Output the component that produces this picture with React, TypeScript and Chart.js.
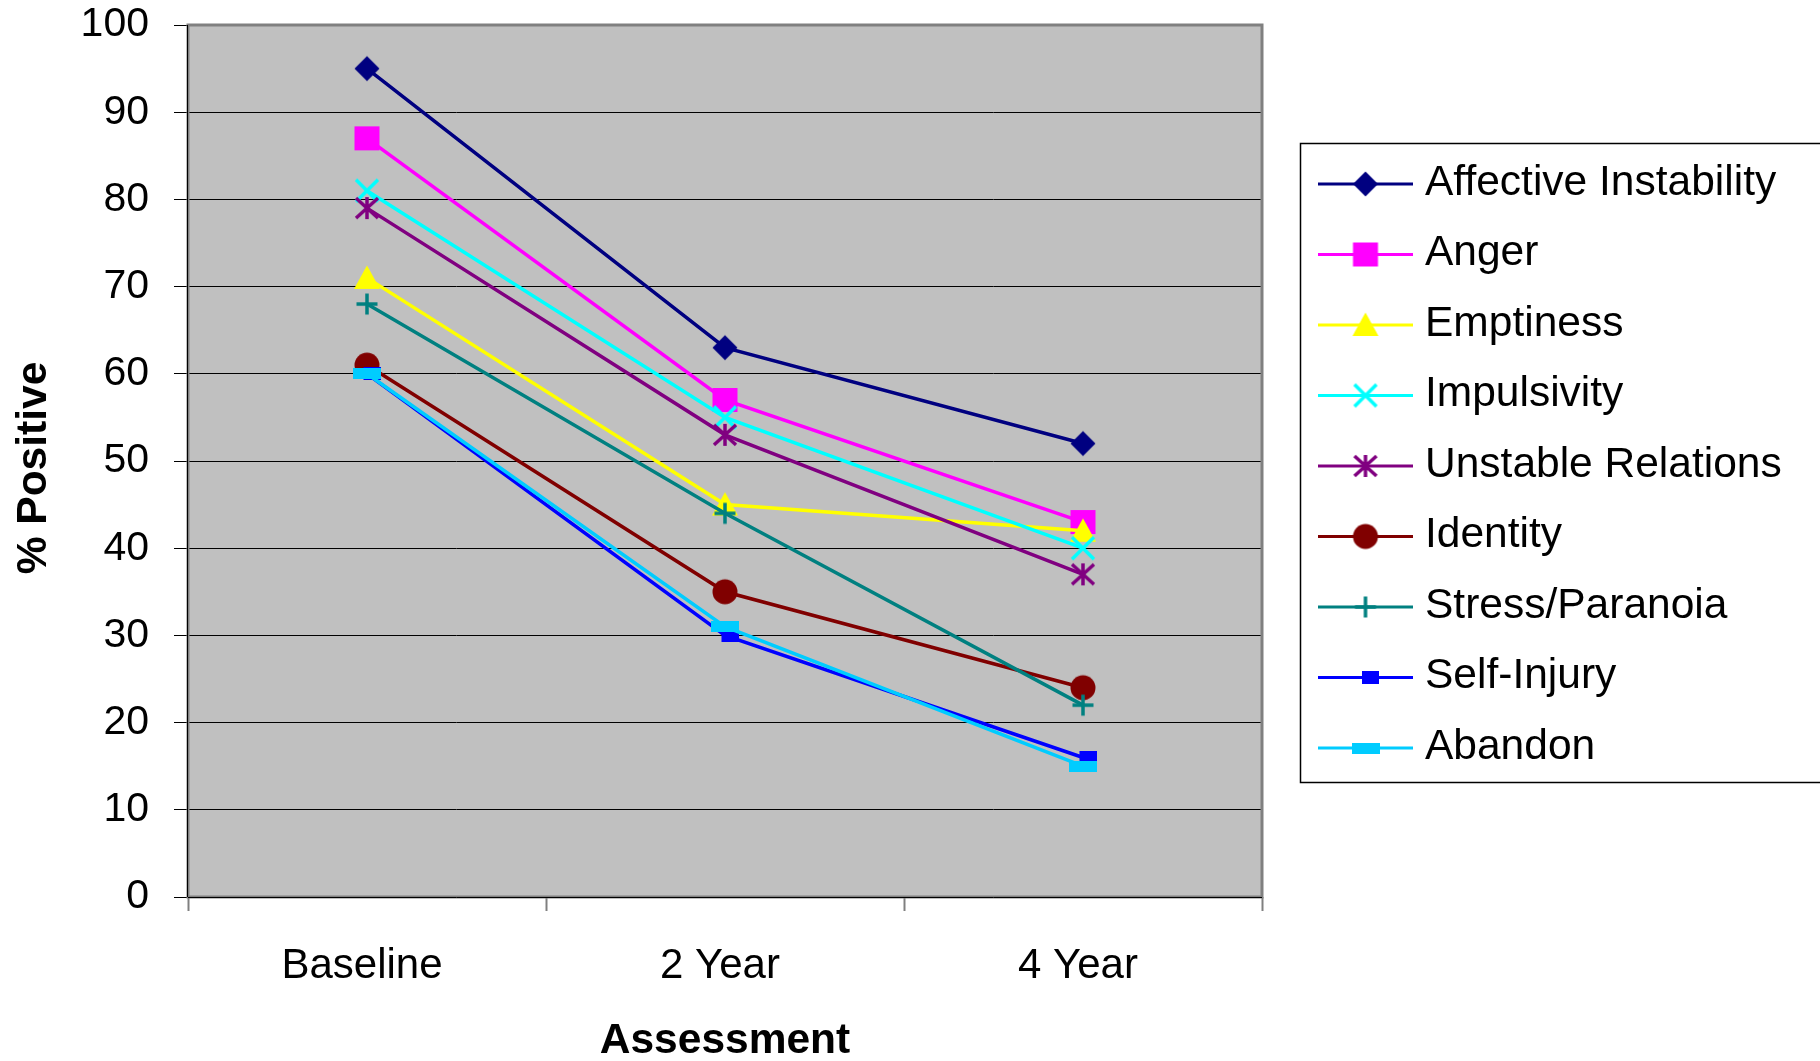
import React, { useEffect, useRef } from 'react';
import { Chart, registerables } from 'chart.js';

Chart.register(...registerables);

// ---- data ----
const categories = ['Baseline', '2 Year', '4 Year'];
const seriesNames = [
  'Affective Instability',
  'Anger',
  'Emptiness',
  'Impulsivity',
  'Unstable Relations',
  'Identity',
  'Stress/Paranoia',
  'Self-Injury',
  'Abandon',
];
const affectiveInstability = [95, 63, 52];
const anger = [87, 57, 43];
const emptiness = [71, 45, 42];
const impulsivity = [81, 55, 40];
const unstableRelations = [79, 53, 37];
const identity = [61, 35, 24];
const stressParanoia = [68, 44, 22];
const selfInjury = [60, 30, 16];
const abandon = [60, 31, 15];
const seriesValues = [
  affectiveInstability,
  anger,
  emptiness,
  impulsivity,
  unstableRelations,
  identity,
  stressParanoia,
  selfInjury,
  abandon,
];
const seriesColors = ['#000080', '#FF00FF', '#FFFF00', '#00FFFF', '#800080', '#800000', '#008080', '#0000FF', '#00CCFF'];
const seriesMarkers = ['diamond', 'square', 'triangle', 'x', 'asterisk', 'circle', 'plus', 'smallRect', 'flatRect'];
const yMin = 0;
const yMax = 100;
const yStep = 10;
const xTitle = 'Assessment';
const yTitle = '% Positive';

const FONT = "'Liberation Sans', Arial, sans-serif";

function makeMarker(kind: string, color: string): HTMLCanvasElement {
  const c = document.createElement('canvas');
  let w = 30;
  let h = 30;
  if (kind === 'smallRect') { w = 27; h = 13; }
  if (kind === 'flatRect') { w = 28; h = 11; }
  c.width = w;
  c.height = h;
  const ctx = c.getContext('2d')!;
  const cx = w / 2;
  const cy = h / 2;
  ctx.fillStyle = color;
  ctx.strokeStyle = color;
  ctx.lineWidth = 3;
  ctx.beginPath();
  switch (kind) {
    case 'diamond':
      ctx.moveTo(cx, cy - 12.5);
      ctx.lineTo(cx + 12.5, cy);
      ctx.lineTo(cx, cy + 12.5);
      ctx.lineTo(cx - 12.5, cy);
      ctx.closePath();
      ctx.fill();
      break;
    case 'square':
      ctx.fillRect(cx - 12.5, cy - 12, 25, 24);
      break;
    case 'triangle':
      ctx.moveTo(cx, cy - 12.5);
      ctx.lineTo(cx + 13, cy + 11);
      ctx.lineTo(cx - 13, cy + 11);
      ctx.closePath();
      ctx.fill();
      break;
    case 'x':
      ctx.lineWidth = 3.5;
      ctx.moveTo(cx - 11, cy - 11);
      ctx.lineTo(cx + 11, cy + 11);
      ctx.moveTo(cx + 11, cy - 11);
      ctx.lineTo(cx - 11, cy + 11);
      ctx.stroke();
      break;
    case 'asterisk':
      ctx.lineWidth = 3.5;
      ctx.moveTo(cx - 11, cy - 10);
      ctx.lineTo(cx + 11, cy + 10);
      ctx.moveTo(cx + 11, cy - 10);
      ctx.lineTo(cx - 11, cy + 10);
      ctx.moveTo(cx, cy - 11);
      ctx.lineTo(cx, cy + 11);
      ctx.stroke();
      break;
    case 'circle':
      ctx.arc(cx, cy, 12.5, 0, Math.PI * 2);
      ctx.fill();
      break;
    case 'plus':
      ctx.lineWidth = 3.5;
      ctx.moveTo(cx - 10.5, cy);
      ctx.lineTo(cx + 10.5, cy);
      ctx.moveTo(cx, cy - 10.5);
      ctx.lineTo(cx, cy + 10.5);
      ctx.stroke();
      break;
    case 'smallRect':
      ctx.fillRect(10, 0, 17, 13);
      break;
    case 'flatRect':
      ctx.fillRect(0, 0, 28, 11);
      break;
  }
  return c;
}

const chromePlugin = {
  id: 'chrome',
  beforeDraw(chart: any) {
    const { ctx, chartArea: a } = chart;
    ctx.save();
    ctx.fillStyle = '#FFFFFF';
    ctx.fillRect(0, 0, chart.width, chart.height);
    ctx.fillStyle = '#C0C0C0';
    ctx.fillRect(a.left, a.top, a.right - a.left, a.bottom - a.top);
    ctx.restore();
  },
  beforeDatasetsDraw(chart: any) {
    const { ctx, chartArea: a } = chart;
    ctx.save();
    ctx.strokeStyle = '#808080';
    ctx.lineWidth = 3;
    ctx.strokeRect(a.left, a.top, a.right - a.left, a.bottom - a.top);
    ctx.strokeStyle = '#000000';
    ctx.lineWidth = 1;
    ctx.beginPath();
    ctx.moveTo(a.left - 0.5, a.top);
    ctx.lineTo(a.left - 0.5, a.bottom);
    ctx.moveTo(a.left, a.bottom + 0.5);
    ctx.lineTo(a.right, a.bottom + 0.5);
    ctx.stroke();
    ctx.restore();
  },
  afterDraw(chart: any) {
    const { ctx } = chart;
    ctx.save();
    // y-axis title (drawn here to match its vertical placement)
    ctx.translate(34, 468);
    ctx.rotate(-Math.PI / 2);
    ctx.fillStyle = '#000000';
    ctx.font = `bold 42.5px ${FONT}`;
    ctx.textAlign = 'center';
    ctx.textBaseline = 'middle';
    ctx.fillText(yTitle, 0, 0);
    ctx.restore();

    ctx.save();
    ctx.strokeStyle = '#000000';
    ctx.lineWidth = 1.5;
    ctx.strokeRect(1300.5, 143.5, 560, 639);
    chart.data.datasets.forEach((ds: any, i: number) => {
      const y = 184 + i * 70.5;
      ctx.strokeStyle = ds.borderColor;
      ctx.lineWidth = 3;
      ctx.beginPath();
      ctx.moveTo(1318, y);
      ctx.lineTo(1413, y);
      ctx.stroke();
      const img = ds.pointStyle as HTMLCanvasElement;
      ctx.drawImage(img, 1365.5 - img.width / 2, y - img.height / 2);
      ctx.fillStyle = '#000000';
      ctx.font = `42.5px ${FONT}`;
      ctx.textBaseline = 'middle';
      ctx.textAlign = 'left';
      ctx.fillText(ds.label, 1425, y - 1);
    });
    ctx.restore();
  },
};

export default function App() {
  const ref = useRef<HTMLCanvasElement | null>(null);
  useEffect(() => {
    const canvas = ref.current;
    if (!canvas) return;
    const datasets = seriesNames.map((name, i) => ({
      label: name,
      data: seriesValues[i],
      borderColor: seriesColors[i],
      backgroundColor: seriesColors[i],
      borderWidth: 3.5,
      pointStyle: makeMarker(seriesMarkers[i], seriesColors[i]) as any,
      pointRadius: 12,
      pointHoverRadius: 12,
      tension: 0,
      fill: false,
      order: seriesNames.length - 1 - i,
    }));
    const chart = new Chart(canvas, {
      type: 'line',
      data: { labels: categories, datasets },
      plugins: [chromePlugin],
      options: {
        responsive: false,
        animation: false,
        devicePixelRatio: 1,
        layout: { padding: { top: 25, right: 558, left: 0, bottom: 0 } },
        plugins: { legend: { display: false }, tooltip: { enabled: false } },
        scales: {
          x: {
            type: 'category',
            offset: true,
            grid: { offset: true, drawOnChartArea: false, tickLength: 14, tickColor: '#808080', tickWidth: 2 },
            border: { display: false },
            ticks: { font: { family: FONT, size: 42 }, color: '#000000', padding: 30, maxRotation: 0, autoSkip: false, labelOffset: -5 },
            title: {
              display: true,
              text: xTitle,
              color: '#000000',
              font: { family: FONT, size: 42.5, weight: 'bold', lineHeight: 0.92 },
              padding: { top: 0, bottom: 0 },
            },
            afterFit: (s: any) => {
              s.height = 164;
              s.paddingLeft = 0;
              s.paddingRight = 0;
            },
          },
          y: {
            min: yMin,
            max: yMax,
            ticks: { stepSize: yStep, font: { family: FONT, size: 41 }, color: '#000000', padding: 25 },
            grid: { color: '#000000', lineWidth: 1, tickLength: 14, tickColor: '#000000' },
            border: { display: false },
            title: { display: false },
            afterFit: (s: any) => {
              s.width = 188;
              s.paddingTop = 0;
              s.paddingBottom = 0;
            },
          },
        },
      } as any,
    });
    return () => chart.destroy();
  }, []);
  return (
    <div style={{ position: 'fixed', left: 0, top: 0, width: 1820, height: 1061, background: '#fff' }}>
      <canvas ref={ref} width={1820} height={1061} style={{ display: 'block' }} />
    </div>
  );
}
